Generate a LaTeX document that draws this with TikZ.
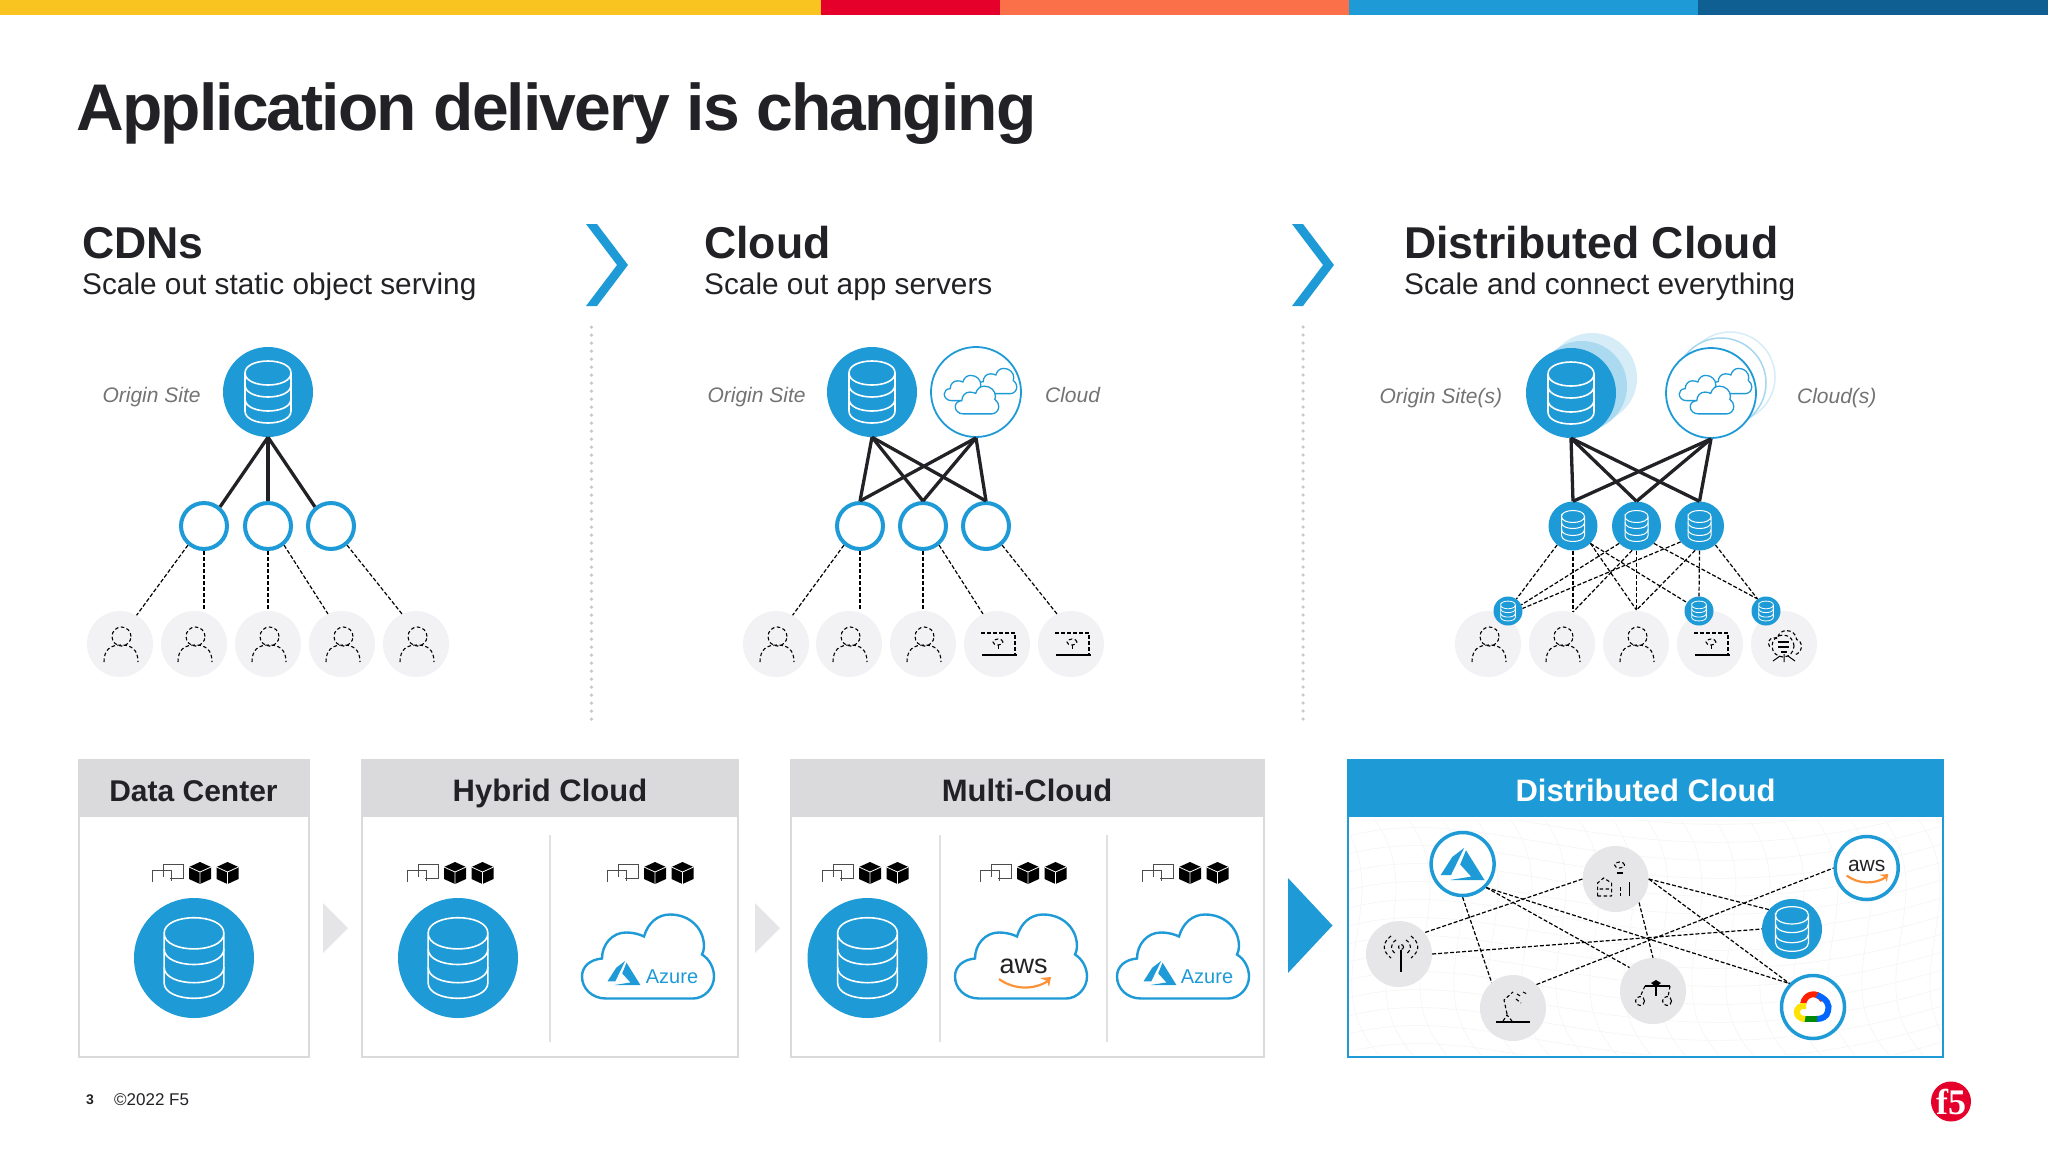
\documentclass[tikz,border=0pt]{standalone}
\usepackage{fontspec}
\setmainfont{Liberation Sans}
\newfontfamily\tightfont[LetterSpace=-2.8]{Liberation Sans}
\newfontfamily\logofont{Liberation Serif}
\usetikzlibrary{positioning}
\definecolor{fblue}{HTML}{1E9BD7}
\definecolor{fyellow}{HTML}{F9C41F}
\definecolor{fred}{HTML}{E4002B}
\definecolor{forange}{HTML}{FC7049}
\definecolor{fdark}{HTML}{0F5F93}
\definecolor{fgrey}{HTML}{DAD9DC}
\definecolor{fusr}{HTML}{F2F1F3}
\definecolor{fnode}{HTML}{E6E6E8}
\definecolor{fink}{HTML}{222226}
\newcommand{\fsz}[1]{\fontsize{#1}{#1}\selectfont}

\tikzset{
    pics/dbicon/.style={code={
        \draw (-23,-19) .. controls (-23,-35) and (23,-35) .. (23,-19) .. controls (23,-3) and (-23,-3) .. (-23,-19) -- (-23,19) .. controls (-23,35) and (23,35) .. (23,19) -- (23,-19);
        \draw (-23,-7) .. controls (-23,9) and (23,9) .. (23,-7);
        \draw (-23,7) .. controls (-23,23) and (23,23) .. (23,7);
    }},
    pics/puff/.style={code={
        \draw[fill=white] (-42,42) .. controls (-56,42) and (-66,32) .. (-66,20) .. controls (-66,10) and (-58,3) .. (-46,2)
            .. controls (-46,-12) and (-36,-24) .. (-22,-24) .. controls (-14,-24) and (-8,-22) .. (-4,-20)
            .. controls (0,-34) and (10,-42) .. (22,-42) .. controls (42,-42) and (56,-28) .. (56,-10) .. controls (56,-7) and (55,-4) .. (54,-2)
            .. controls (62,3) and (66,12) .. (66,20) .. controls (66,32) and (56,42) .. (45,42) -- cycle;
    }},
    pics/appicons/.style={code={
        \draw[black!70, line width=1pt] (-37,-9) -- (-17,-9) -- (-17,5) -- (-30,5);
        \draw[black!70, line width=1pt] (-37,4) -- (-37,-9);
        \draw[black!70, line width=1pt] (-48,9) -- (-48,-3) -- (-29,-3) -- (-29,8);
        \foreach \cx in {0,27.5} {
            \fill[black] (\cx,-11) -- (\cx+11,-6) -- (\cx+11,6) -- (\cx,11) -- (\cx-11,6) -- (\cx-11,-6) -- cycle;
            \draw[white, line width=.8pt] (\cx-11,-6) -- (\cx,-1) -- (\cx+11,-6) (\cx,-1) -- (\cx,11);
        }
    }},
    pics/azlogo/.style={code={
        \fill (1.6,-16.1) -- (-10.4,-7) -- (-21.9,11) -- (-11.6,11) -- cycle;
        \fill (3.4,-13.7) -- (-2.4,.5) -- (8.6,12.6) -- (-12.8,16) -- (21.9,16) -- cycle;
    }},
    pics/smile/.style={code={
        \draw[forange!60!fyellow, line width=2.2pt] (-25,-3) .. controls (-10,8) and (10,8) .. (24,-1);
        \fill[forange!60!fyellow] (16,-4) -- (27,-5) -- (25,5) -- (23,-1) -- cycle;
    }},
    pics/gcplogo/.style={code={
        \begin{scope}[line width=6pt]
        \draw[red!75!orange] (-10,-3) .. controls (-8,-14) and (4,-16) .. (10,-7);
        \draw[blue!60!cyan] (4,-12) .. controls (14,-8) and (17,-2) .. (15,4) .. controls (14,10) and (9,12) .. (3,12);
        \draw[green!55!black] (4,12) -- (-9,12);
        \draw[yellow!85!orange] (-8,12) .. controls (-19,12) and (-19,-3) .. (-7,-1);
        \end{scope}
    }},
    pics/personicon/.style={code={
        \draw[wire] (1.5,-7.5) circle (9.5pt);
        \draw[wire] (-16,18) .. controls (-16,6) and (-10,1) .. (1,1) .. controls (12,1) and (18,6) .. (18,18);
    }},
    pics/laptopicon/.style={code={
        \draw[wire] (-16,-11) -- (18,-11) -- (18,11);
        \draw[black, line width=2pt] (-15,11) -- (20,11);
        \draw[wire] (1,-2) ellipse (5pt and 3pt);
        \draw[wire, line width=1pt] (1,1) -- (1,7);
    }},
    pics/servericon/.style={code={
        \begin{scope}[scale=.45, wire]
        \draw (-32,6) .. controls (-42,-14) and (-20,-16) .. (-14,-12) .. controls (-14,-36) and (26,-36) .. (28,-10) .. controls (44,-6) and (42,22) .. (22,24);
        \end{scope}
        \draw[wire] (-1,2) circle (11pt);
        \draw[black, line width=2pt] (-6,-2) -- (5,-2) (-6,3) -- (5,3) (-3,8) -- (3,8);
        \draw[black, line width=1pt] (0,10) -- (0,18) (-4,12) -- (-11,17) (4,12) -- (11,17);
    }},
    pics/antennaicon/.style={code={
        \draw[black, line width=1.5pt] (2,-4) -- (2,18);
        \draw[wire] (2,-7) circle (2.5pt);
        \draw[wire] (-3,-14) .. controls (-9,-10) and (-9,-4) .. (-3,0) (7,-14) .. controls (13,-10) and (13,-4) .. (7,0);
        \draw[wire] (-8,-18) .. controls (-17,-11) and (-17,-3) .. (-8,4) (12,-18) .. controls (21,-11) and (21,-3) .. (12,4);
    }},
    pics/plantbench/.style={code={
        \draw[wire] (4,-14) ellipse (5pt and 3pt);
        \draw[black, line width=1.2pt] (1,-6) -- (7,-6);
        \draw[wire] (-18,17) -- (-18,4) -- (-12,-1) -- (-4,4) -- (-4,17) (-18,17) -- (-4,17) (-16,10) -- (-4,10);
        \draw[wire] (5,8) -- (5,17);
        \draw[black, line width=1.2pt] (14,3) -- (14,17);
    }},
    pics/robotarm/.style={code={
        \draw[black, line width=1.2pt] (-17,14) -- (17,14);
        \draw[wire] (-10,13) -- (-6,7) -- (-1,13) (-6,6) -- (-9,-8) -- (0,-16);
        \draw[wire] (4,-14) -- (9,-11) (3,-9) -- (8,-5) (10,-16) -- (14,-14);
    }},
    pics/branchicon/.style={code={
        \fill[black] (3,-11) -- (8,-8) -- (3,-4) -- (-2,-8) -- cycle;
        \draw[black, line width=1.2pt] (-8,-5) -- (17,-5) (3,-5) -- (3,5);
        \draw[wire] (-8,-5) -- (-13,6) (17,-5) -- (15,6);
        \draw[wire] (-13,10) circle (4.5pt) (14,10) circle (4.5pt);
    }},
}

\begin{document}
\begin{tikzpicture}[x=1pt, y=-1pt, font=\fsz{21},
        wire/.style = {black, line width=1.1pt, dash pattern=on 3.5pt off 2.5pt},
        thickline/.style = {fink, line width=3.3pt},
        dashline/.style = {black, line width=1.2pt, dash pattern=on 4pt off 2pt},
        site/.style = {circle, fill=fblue, minimum size=90pt, inner sep=0pt},
        cloudsite/.style = {circle, draw=fblue, fill=white, line width=1.8pt, minimum size=90pt, inner sep=0pt},
        relay/.style = {circle, draw=fblue, fill=white, line width=4pt, minimum size=46pt, inner sep=0pt},
        hub/.style = {circle, fill=fblue, minimum size=49pt, inner sep=0pt},
        edge/.style = {circle, fill=fblue, minimum size=29pt, inner sep=0pt},
        user/.style = {circle, fill=fusr, minimum size=66pt, inner sep=0pt},
        big/.style = {circle, fill=fblue, minimum size=120pt, inner sep=0pt},
        greynode/.style = {circle, fill=fnode, minimum size=66pt, inner sep=0pt},
        logonode/.style = {circle, draw=fblue, fill=white, line width=3.5pt, minimum size=63pt, inner sep=0pt},
        tag/.style = {font=\fsz{21}\itshape, text=black!55, text height=20pt, text depth=0pt, inner sep=0pt},
        headline/.style = {font=\fsz{44.6}\bfseries, text=fink, anchor=base west, inner sep=0pt},
        subline/.style = {font=\fsz{29.8}, text=fink, anchor=base west, inner sep=0pt},
        panel/.style = {draw=fgrey, fill=white, line width=2pt, inner sep=0pt},
        panelhead/.style = {fill=fgrey, font=\fsz{31}\bfseries, text=fink, minimum height=58pt, text height=26pt, text depth=0pt, anchor=north, inner sep=0pt},
        slit/.style = {fgrey!80, line width=1.2pt},
        dots/.style = {black!22, line width=3.5pt, line cap=round, dash pattern=on 0pt off 8pt},
        azword/.style = {font=\fsz{20}, text=fblue, inner sep=0pt},
        awsword/.style = {font=\fsz{27}, text=fink, inner sep=0pt},
        dbline/.style = {white, line width=1.6pt},
    ]
    \useasboundingbox (0,0) rectangle (2048,1152);

    % colour bar
    \fill[fyellow] (0,0) rectangle (821,15);
    \fill[fred] (821,0) rectangle (1000,15);
    \fill[forange] (1000,0) rectangle (1349,15);
    \fill[fblue] (1349,0) rectangle (1698,15);
    \fill[fdark] (1698,0) rectangle (2048,15);

    \node[font=\fsz{66}\tightfont\bfseries, text=fink, anchor=base west, inner sep=0pt] (title) at (76,130) {Application delivery is changing};

    % headings
    \node[headline] (cdnhead) at (82,258) {CDNs};
    \node[subline] (cdnsub) at (82,294) {Scale out static object serving};
    \node[headline] (cloudhead) at (704,258) {Cloud};
    \node[subline] (cloudsub) at (704,294) {Scale out app servers};
    \node[headline] (disthead) at (1404,258) {Distributed Cloud};
    \node[subline] (distsub) at (1404,294) {Scale and connect everything};

    \fill[fblue] (586,224) -- (597,224) -- (628,265) -- (597,306) -- (586,306) -- (617,265) -- cycle;
    \fill[fblue] (1292,224) -- (1303,224) -- (1334,265) -- (1303,306) -- (1292,306) -- (1323,265) -- cycle;
    \draw[dots] (591.5,327) -- (591.5,722);
    \draw[dots] (1303,327) -- (1303,725);

    % first column
    \node[site] (o1) at (268,392) {};
    \node[tag, left=22pt of o1] (o1tag) {Origin Site};
    \pic[dbline] at (o1) {dbicon};
    \node[relay] (a1) at (204,526) {};
    \node[relay] (a2) at (268,526) {};
    \node[relay] (a3) at (331,526) {};
    \node[user] (u1) at (120,644) {};
    \node[user] (u2) at (194,644) {};
    \node[user] (u3) at (268,644) {};
    \node[user] (u4) at (342,644) {};
    \node[user] (u5) at (416,644) {};
    \pic at (u1) {personicon};
    \pic at (u2) {personicon};
    \pic at (u3) {personicon};
    \pic at (u4) {personicon};
    \pic at (u5) {personicon};
    \draw[thickline] (o1.south) -- (a1.50);
    \draw[thickline] (o1.south) -- (a2.north);
    \draw[thickline] (o1.south) -- (a3.130);
    \draw[dashline] (a1.-130) -- (u1.60);
    \draw[dashline] (a1.south) -- (a1 |- u2.north);
    \draw[dashline] (a2.south) -- (a2 |- u3.north);
    \draw[dashline] (a2.-50) -- (u4.115);
    \draw[dashline] (a3.-50) -- (u5.115);

    % second column
    \node[site] (o2) at (872,392) {};
    \node[tag, left=21pt of o2] (o2tag) {Origin Site};
    \pic[dbline] at (o2) {dbicon};
    \node[cloudsite] (c2) at (976,392) {};
    \node[tag, right=23pt of c2] (c2tag) {Cloud};
    \pic[fblue, line width=1.3pt, scale=.3] at (997,381) {puff};
    \pic[fblue, line width=1.3pt, scale=.3] at (964,388) {puff};
    \pic[fblue, line width=1.3pt, scale=.33] at (977,400) {puff};
    \node[relay] (b1) at (860,526) {};
    \node[relay] (b2) at (923,526) {};
    \node[relay] (b3) at (986,526) {};
    \node[user] (v1) at (776,644) {};
    \node[user] (v2) at (849,644) {};
    \node[user] (v3) at (923,644) {};
    \node[user] (v4) at (997,644) {};
    \node[user] (v5) at (1071,644) {};
    \pic at (v1) {personicon};
    \pic at (v2) {personicon};
    \pic at (v3) {personicon};
    \pic at (v4) {laptopicon};
    \pic at (v5) {laptopicon};
    \draw[thickline] (o2.south) -- (b1.north);
    \draw[thickline] (o2.south) -- (b2.north);
    \draw[thickline] (o2.south) -- (b3.north);
    \draw[thickline] (c2.south) -- (b1.north);
    \draw[thickline] (c2.south) -- (b2.north);
    \draw[thickline] (c2.south) -- (b3.north);
    \draw[dashline] (b1.-130) -- (v1.60);
    \draw[dashline] (b1.south) -- (b1 |- v2.north);
    \draw[dashline] (b2.south) -- (b2 |- v3.north);
    \draw[dashline] (b2.-50) -- (v4.115);
    \draw[dashline] (b3.-50) -- (v5.115);

    % third column
    \fill[fblue!18] (1592,378) circle (45pt);
    \fill[fblue!38] (1582,386) circle (45pt);
    \node[site] (o3) at (1571,393) {};
    \node[tag, left=23.5pt of o3] (o3tag) {Origin Site(s)};
    \pic[dbline] at (o3) {dbicon};
    \draw[fblue!18, line width=1.5pt, fill=white] (1730,377) circle (45pt);
    \draw[fblue!40, line width=1.5pt, fill=white] (1721,383) circle (45pt);
    \node[cloudsite] (c3) at (1711,393) {};
    \node[tag, right=40pt of c3] (c3tag) {Cloud(s)};
    \pic[fblue, line width=1.3pt, scale=.3] at (1732,381) {puff};
    \pic[fblue, line width=1.3pt, scale=.3] at (1699,388) {puff};
    \pic[fblue, line width=1.3pt, scale=.33] at (1712,400) {puff};
    \node[user] (w1) at (1488,644) {};
    \node[user] (w2) at (1562,644) {};
    \node[user] (w3) at (1636,644) {};
    \node[user] (w4) at (1710,644) {};
    \node[user] (w5) at (1784,644) {};
    \pic at (w1) {personicon};
    \pic at (w2) {personicon};
    \pic at (w3) {personicon};
    \pic at (w4) {laptopicon};
    \pic at (w5) {servericon};
    \node[hub] (h1) at (1573,526) {};
    \node[hub] (h2) at (1636.5,526) {};
    \node[hub] (h3) at (1699.5,526) {};
    \node[edge] (e1) at (1508,611) {};
    \node[edge] (e2) at (1699,611) {};
    \node[edge] (e3) at (1766,611) {};
    \pic[white, line width=1pt, scale=.5] at (h1) {dbicon};
    \pic[white, line width=1pt, scale=.5] at (h2) {dbicon};
    \pic[white, line width=1pt, scale=.5] at (h3) {dbicon};
    \pic[white, line width=.8pt, scale=.32] at (e1) {dbicon};
    \pic[white, line width=.8pt, scale=.32] at (e2) {dbicon};
    \pic[white, line width=.8pt, scale=.32] at (e3) {dbicon};
    \coordinate (t2) at (1573,612);
    \coordinate (t3) at (1636.5,610);
    \draw[thickline] (o3.south) -- (h1.north);
    \draw[thickline] (o3.south) -- (h2.north);
    \draw[thickline] (o3.south) -- (h3.north);
    \draw[thickline] (c3.south) -- (h1.north);
    \draw[thickline] (c3.south) -- (h2.north);
    \draw[thickline] (c3.south) -- (h3.north);
    \draw[dashline] (h1.-130) -- (e1.55);
    \draw[dashline] (h1.south) -- (t2);
    \draw[dashline] (h1.-45) -- (t3);
    \draw[dashline] (h1.-45) -- (e2.145);
    \draw[dashline] (h2.-135) -- (e1.25);
    \draw[dashline] (h2.south) -- (t3);
    \draw[dashline] (h2.-100) -- (t2);
    \draw[dashline] (h2.-45) -- (e3.125);
    \draw[dashline] (h3.-140) -- (e1.10);
    \draw[dashline] (h3.-100) -- (t3);
    \draw[dashline] (h3.south) -- (e2.north);
    \draw[dashline] (h3.-50) -- (e3.125);

    % data center
    \node[panel, minimum width=230pt, minimum height=297pt] (dcbox) at (193.5,908.5) {};
    \node[panelhead, font=\fsz{30}\bfseries, minimum width=232pt] (dchead) at (dcbox.north) {Data Center};
    \pic at (200,873) {appicons};
    \node[big] (dcdb) at (194,958) {};
    \pic[dbline, scale=1.3] at (dcdb) {dbicon};

    \fill[fgrey!70] (323,903) -- (348,928) -- (323,953) -- cycle;

    % hybrid cloud
    \node[panel, minimum width=376pt, minimum height=297pt] (hybox) at (550,908.5) {};
    \node[panelhead, minimum width=378pt] (hyhead) at (hybox.north) {Hybrid Cloud};
    \draw[slit] (550,835) -- (550,1042);
    \pic at (455,873) {appicons};
    \pic at (655,873) {appicons};
    \node[big] (hydb) at (458,958) {};
    \pic[dbline, scale=1.3] at (hydb) {dbicon};
    \pic[fblue, line width=2.4pt] at (648,956.5) {puff};
    \pic[fblue, scale=.75] at (624,973) {azlogo};
    \node[azword] (hyaz) at (672,977) {Azure};

    \fill[fgrey!70] (755,903) -- (780,928) -- (755,953) -- cycle;

    % multi cloud
    \node[panel, minimum width=473pt, minimum height=297pt] (mubox) at (1027,908.5) {};
    \node[panelhead, minimum width=475pt] (muhead) at (mubox.north) {Multi-Cloud};
    \draw[slit] (940,835) -- (940,1042);
    \draw[slit] (1107,835) -- (1107,1042);
    \pic at (870,873) {appicons};
    \pic at (1028,873) {appicons};
    \pic at (1190,873) {appicons};
    \node[big] (mudb) at (867.5,958) {};
    \pic[dbline, scale=1.3] at (mudb) {dbicon};
    \pic[fblue, line width=2.4pt] at (1021,956.5) {puff};
    \node[awsword] (muaws) at (1023.5,966) {aws};
    \pic at (1024,982) {smile};
    \pic[fblue, line width=2.4pt] at (1183,956.5) {puff};
    \pic[fblue, scale=.75] at (1160,973) {azlogo};
    \node[azword] (muaz) at (1207,977) {Azure};

    \fill[fblue] (1288,878) -- (1332.5,925.5) -- (1288,973) -- cycle;

    % distributed cloud
    \node[panel, draw=fblue, fill=white, minimum width=595pt, minimum height=297pt] (dibox) at (1645.5,908.5) {};
    \begin{scope}
        \clip (1350,820) rectangle (1941,1054);
        \foreach \k in {0,...,16} {
            \draw[black!4, line width=.6pt] (1349,{800+18*\k}) .. controls (1500,{760+18*\k}) and (1640,{880+18*\k}) .. (1942,{790+18*\k});
        }
        \foreach \k in {0,...,18} {
            \draw[black!4, line width=.6pt] ({1340+34*\k},819) .. controls ({1400+34*\k},900) and ({1310+34*\k},980) .. ({1380+34*\k},1056);
        }
    \end{scope}
    \node[panelhead, fill=fblue, text=white, minimum width=597pt] (dihead) at (dibox.north) {Distributed Cloud};
    \node[logonode] (azn) at (1462.6,864) {};
    \pic[fblue] at (azn) {azlogo};
    \node[greynode] (plant) at (1615.6,879) {};
    \pic at (plant) {plantbench};
    \node[logonode] (awsn) at (1866.7,868) {};
    \node[awsword, font=\fsz{21}] (awst) at (1866.7,866) {aws};
    \pic[scale=.8] at (1866.7,878) {smile};
    \node[circle, fill=fblue, minimum size=60pt, inner sep=0pt] (dbn) at (1792,929) {};
    \pic[white, line width=1.2pt, scale=.72] at (dbn) {dbicon};
    \node[greynode] (ant) at (1399,954) {};
    \pic at (ant) {antennaicon};
    \node[greynode] (rob) at (1513,1008) {};
    \pic at (rob) {robotarm};
    \node[greynode] (bra) at (1653,991) {};
    \pic at (bra) {branchicon};
    \node[logonode] (gcp) at (1813,1007) {};
    \pic at (gcp) {gcplogo};
    \draw[dashline] (azn.south) -- (rob.130);
    \draw[dashline] (azn.-45) -- (bra.135);
    \draw[dashline] (azn.-45) -- (gcp.135);
    \draw[dashline] (plant.west) -- (ant.40);
    \draw[dashline] (plant.east) -- (dbn.140);
    \draw[dashline] (plant.east) -- (gcp.135);
    \draw[dashline] (plant.-45) -- (bra.north);
    \draw[dashline] (ant.east) -- (dbn.west);
    \draw[dashline] (rob.45) -- (awsn.west);

    % footer
    \node[font=\fsz{14}\bfseries, text=fink, inner sep=0pt] (pageno) at (90,1100) {3};
    \node[font=\fsz{17}, text=fink, anchor=west, inner sep=0pt] (copyr) at (114,1100) {©2022 F5};
    \node[circle, fill=fred, minimum size=40pt, inner sep=0pt, font=\fsz{36}\logofont\bfseries, text=white] (f5logo) at (1951,1101.5) {f5};
\end{tikzpicture}
\end{document}
